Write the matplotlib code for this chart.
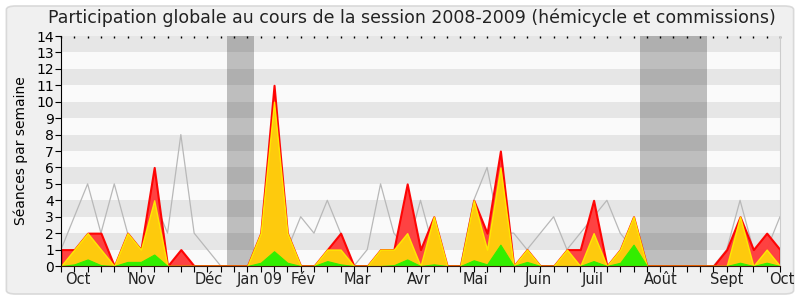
import matplotlib
matplotlib.use("Agg")
import matplotlib.pyplot as plt
from matplotlib.patches import FancyBboxPatch
import numpy as np

weeks = list(range(55))
presences = [1, 1, 2, 2, 0, 2, 1, 6, 0, 1, 0, 0, 0, 0, 0, 2, 11, 2, 0, 0,
             1, 2, 0, 0, 1, 1, 5, 1, 3, 0, 0, 4, 2, 7, 0, 1, 0, 0, 1, 1,
             4, 0, 1, 3, 0, 0, 0, 0, 0, 0, 1, 3, 1, 2, 1]
participation = [0, 1, 2, 1, 0, 2, 1, 4, 0, 0, 0, 0, 0, 0, 0, 2, 10, 2, 0, 0,
                 1, 1, 0, 0, 1, 1, 2, 0, 3, 0, 0, 4, 1, 6, 0, 1, 0, 0, 1, 0,
                 2, 0, 1, 3, 0, 0, 0, 0, 0, 0, 0, 3, 0, 1, 0]
interventions = [0, 0.1, 0.4, 0.05, 0, 0.25, 0.25, 0.7, 0, 0, 0, 0, 0, 0, 0, 0.2, 0.9, 0.2, 0, 0,
                 0.3, 0.1, 0, 0, 0, 0.05, 0.4, 0, 0.1, 0, 0, 0.35, 0.1, 1.3, 0, 0.25, 0, 0, 0, 0,
                 0.3, 0, 0.2, 1.3, 0, 0, 0, 0, 0, 0, 0, 0.2, 0, 0.2, 0]
mediane = [1, 3, 5, 2, 5, 2, 1, 4, 2, 8, 2, 1, 0, 0, 0, 1, 2, 1, 3, 2,
           4, 2, 0, 1, 5, 2, 1, 4, 1, 0, 0, 4, 6, 2, 2, 1, 2, 3, 1, 2,
           3, 4, 2, 1, 0, 0, 0, 0, 0, 0, 1, 4, 1, 1, 3]
vacances = [(12.5, 14.5), (43.5, 48.5)]
month_labels = ["Oct", "Nov", "Déc", "Jan 09", "Fév", "Mar", "Avr", "Mai",
                "Juin", "Juil", "Août", "Sept", "Oct"]
month_pos = [0.3, 5.0, 10.05, 13.2, 17.25, 21.2, 26.0, 30.2, 34.8, 39.1, 43.75, 48.76, 53.2]

fig = plt.figure(figsize=(8, 3), dpi=100, facecolor="white")
fig.patches.append(FancyBboxPatch((0.008, 0.02), 0.984, 0.96, boxstyle="round,pad=0,rounding_size=0.012",
                                  transform=fig.transFigure, facecolor="#f0f0f0",
                                  edgecolor="#d9d9d9", linewidth=1.2, zorder=-10))
ax = fig.add_axes([0.07625, 0.1133, 0.89875, 0.7667])
ax.set_facecolor("#fafafa")
for k in range(1, 14, 2):
    ax.axhspan(k, k + 1, color="#e6e6e6", lw=0, zorder=0)
for a, b in vacances:
    ax.axvspan(a, b, color="black", alpha=0.24, lw=0, zorder=1)

x = np.array(weeks)
ax.plot(x, mediane, color="#b8b8b8", lw=0.9, zorder=2)
ax.fill_between(x, 0, presences, facecolor="#ff3c3c", edgecolor="#ff0000", lw=1.5, alpha=0.97, zorder=3)
ax.fill_between(x, 0, participation, facecolor="#ffd20a", edgecolor="#ffee00", lw=1.0, alpha=0.95, zorder=4)
ax.fill_between(x, 0, interventions, facecolor="#33ee00", edgecolor="#33ee00", lw=0.8, zorder=5)

ax.set_xlim(0, 54)
ax.set_ylim(0, 14)
ax.set_yticks(range(15))
ax.tick_params(axis="y", labelsize=10, length=4, pad=1)
ax.set_xticks(weeks)
ax.set_xticklabels([])
ax.tick_params(axis="x", length=4, direction="out")
for lab, p in zip(month_labels, month_pos):
    ax.text(p, -0.35, lab, ha="left", va="top", fontsize=10.5, color="#222222",
            transform=ax.transData, clip_on=False)
# top dotted ticks
ax2 = ax.secondary_xaxis("top")
ax2.set_xticks(weeks)
ax2.set_xticklabels([])
ax2.tick_params(length=1.6, direction="in", width=1.0)
ax2.spines["top"].set_visible(False)
ax.spines["top"].set_visible(False)
ax.spines["right"].set_color("#cccccc")
ax.spines["left"].set_color("black")
ax.spines["bottom"].set_color("#3a1a10")
for s in ax.spines.values():
    s.set_zorder(6)

ax.set_ylabel("Séances par semaine", fontsize=10, labelpad=6)
fig.text(0.515, 0.972, "Participation globale au cours de la session 2008-2009 (hémicycle et commissions)",
         ha="center", va="top", fontsize=12.5, color="#222222")

fig.savefig("out.png", dpi=100, facecolor=fig.get_facecolor())
